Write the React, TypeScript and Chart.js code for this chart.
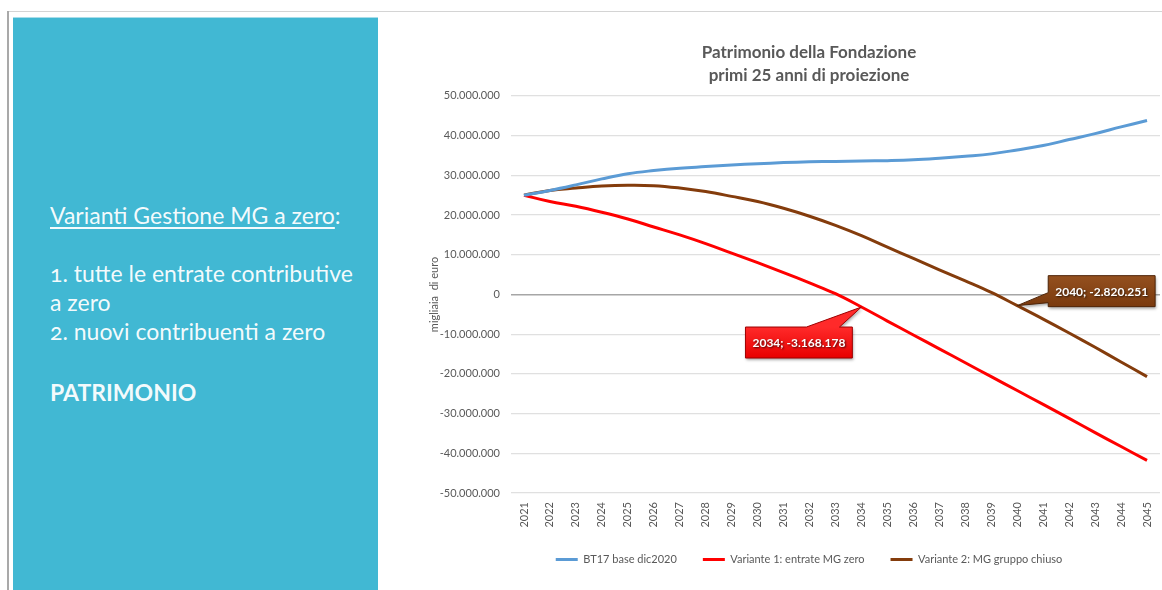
import React, { useEffect, useRef } from "react";
import { Chart, registerables } from "chart.js";

Chart.register(...registerables);

// ---------- DATA ----------
const years = [
  "2021", "2022", "2023", "2024", "2025", "2026", "2027", "2028", "2029", "2030",
  "2031", "2032", "2033", "2034", "2035", "2036", "2037", "2038", "2039", "2040",
  "2041", "2042", "2043", "2044", "2045",
];

const seriesNames = [
  "BT17 base dic2020",
  "Variante 1: entrate MG zero",
  "Variante 2: MG gruppo chiuso",
];

const baseBT17 = [
  25000000, 26200000, 27600000, 29100000, 30400000, 31200000, 31800000, 32200000,
  32600000, 32900000, 33200000, 33400000, 33500000, 33600000, 33700000, 33900000,
  34300000, 34800000, 35400000, 36400000, 37500000, 39000000, 40500000, 42200000,
  43800000,
];

const variante1 = [
  25000000, 23400000, 22200000, 20700000, 19000000, 17000000, 15000000, 12800000,
  10400000, 8000000, 5500000, 2900000, 200000, -3168178, -6700000, -10200000,
  -13700000, -17200000, -20700000, -24200000, -27700000, -31200000, -34800000,
  -38300000, -41800000,
];

const variante2 = [
  25000000, 26200000, 26800000, 27300000, 27500000, 27400000, 26800000, 25900000,
  24700000, 23400000, 21700000, 19700000, 17400000, 14800000, 11900000, 9100000,
  6200000, 3400000, 500000, -2820251, -6200000, -9700000, -13300000, -17000000,
  -20700000,
];

const yMin = -50000000;
const yMax = 50000000;
const yStep = 10000000;

const titleLines = ["Patrimonio della Fondazione", "primi 25 anni di proiezione"];
const yAxisTitle = "migliaia  di euro";

// callouts: which dataset / which year
const calloutSeries = [1, 2];
const calloutYears = ["2034", "2040"];
const calloutTexts = ["2034; -3.168.178", "2040; -2.820.251"];

// ---------- STYLE ----------
const FONT = "Lato, 'Open Sans', sans-serif";
const colors = ["#5B9BD5", "#FF0000", "#843C0C"];
const TEXT_GREY = "#595959";

const fmt = (v: number) => {
  const s = Math.round(Math.abs(v)).toString().replace(/\B(?=(\d{3})+(?!\d))/g, ".");
  return (v < 0 ? "-" : "") + s;
};

const calloutStyles = [
  { fillTop: "#ff2a2a", fillBottom: "#e80000", stroke: "#9c0000", side: "below" },
  { fillTop: "#94501f", fillBottom: "#7a3a0e", stroke: "#4e2408", side: "right" },
];

const calloutPlugin = {
  id: "callouts",
  afterDatasetsDraw(chart: any) {
    const ctx = chart.ctx as CanvasRenderingContext2D;
    calloutSeries.forEach((dsIndex, i) => {
      const idx = years.indexOf(calloutYears[i]);
      const meta = chart.getDatasetMeta(dsIndex);
      const pt = meta.data[idx];
      if (!pt) return;
      const x = pt.x;
      const y = pt.y;
      const st = calloutStyles[i];
      ctx.save();
      ctx.font = `bold 12px ${FONT}`;
      const tw = ctx.measureText(calloutTexts[i]).width;
      const w = tw + 14;
      const h = 31;
      let left: number, top: number;
      ctx.beginPath();
      if (st.side === "below") {
        left = x - 116;
        top = y + 20;
        ctx.moveTo(left, top);
        ctx.lineTo(left + 61, top);
        ctx.lineTo(x, y);
        ctx.lineTo(left + 94, top);
        ctx.lineTo(left + w, top);
        ctx.lineTo(left + w, top + h);
        ctx.lineTo(left, top + h);
        ctx.closePath();
      } else {
        left = x + 31;
        top = y - 30;
        ctx.moveTo(left, top);
        ctx.lineTo(left + w, top);
        ctx.lineTo(left + w, top + h);
        ctx.lineTo(left, top + h);
        ctx.lineTo(left, top + 27);
        ctx.lineTo(x, y);
        ctx.lineTo(left, top + 17);
        ctx.closePath();
      }
      const g = ctx.createLinearGradient(0, top, 0, top + h);
      g.addColorStop(0, st.fillTop);
      g.addColorStop(1, st.fillBottom);
      ctx.shadowColor = "rgba(0,0,0,0.35)";
      ctx.shadowBlur = 3;
      ctx.shadowOffsetX = 1;
      ctx.shadowOffsetY = 2;
      ctx.fillStyle = g;
      ctx.fill();
      ctx.shadowColor = "transparent";
      ctx.lineWidth = 1;
      ctx.strokeStyle = st.stroke;
      ctx.stroke();
      ctx.fillStyle = "#ffffff";
      ctx.textAlign = "center";
      ctx.textBaseline = "middle";
      ctx.shadowColor = "rgba(0,0,0,0.7)";
      ctx.shadowBlur = 2;
      ctx.shadowOffsetX = 1;
      ctx.shadowOffsetY = 1;
      ctx.fillText(calloutTexts[i], left + w / 2, top + h / 2 + 1);
      ctx.restore();
    });
  },
};

function PatrimonioChart() {
  const ref = useRef<HTMLCanvasElement | null>(null);
  useEffect(() => {
    if (!ref.current) return;
    const datasets = [baseBT17, variante1, variante2].map((d, i) => ({
      label: seriesNames[i],
      data: d,
      borderColor: colors[i],
      backgroundColor: colors[i],
      borderWidth: 3,
      pointRadius: 0,
      pointHoverRadius: 0,
      tension: 0.4,
      fill: false,
    }));
    const chart = new Chart(ref.current, {
      type: "line",
      data: { labels: years, datasets },
      plugins: [calloutPlugin],
      options: {
        animation: false,
        responsive: true,
        maintainAspectRatio: false,
        layout: { padding: { left: 25, right: 0, top: 11, bottom: 15 } },
        plugins: {
          tooltip: { enabled: false },
          title: {
            display: true,
            text: titleLines,
            color: TEXT_GREY,
            font: { family: FONT, size: 17, weight: "bold", lineHeight: 1.35 },
            padding: { top: 0, bottom: 9 },
          },
          legend: {
            display: true,
            position: "bottom",
            labels: {
              boxWidth: 22,
              boxHeight: 3,
              padding: 26,
              color: TEXT_GREY,
              font: { family: FONT, size: 11 },
              generateLabels: (c: any) =>
                c.data.datasets.map((ds: any, i: number) => ({
                  text: ds.label,
                  fillStyle: ds.borderColor,
                  strokeStyle: ds.borderColor,
                  lineWidth: 0,
                  hidden: false,
                  datasetIndex: i,
                  fontColor: TEXT_GREY,
                })),
            },
          },
        },
        scales: {
          x: {
            type: "category",
            offset: true,
            grid: { display: false, drawTicks: false },
            border: { display: false },
            ticks: {
              color: TEXT_GREY,
              font: { family: FONT, size: 11 },
              minRotation: 90,
              maxRotation: 90,
              padding: 9,
              autoSkip: false,
            },
            afterFit: (s: any) => {
              s.height = 35;
            },
          },
          y: {
            position: "left",
            min: yMin,
            max: yMax,
            grid: {
              drawTicks: false,
              color: (c: any) => (c.tick && c.tick.value === 0 ? "#a6a6a6" : "#e0e0e0"),
              lineWidth: (c: any) => (c.tick && c.tick.value === 0 ? 1.6 : 1.2),
            },
            border: { display: false },
            ticks: {
              stepSize: yStep,
              color: TEXT_GREY,
              font: { family: FONT, size: 11 },
              padding: 11,
              callback: (v: any) => fmt(Number(v)),
            },
            title: {
              display: true,
              text: yAxisTitle,
              color: TEXT_GREY,
              font: { family: FONT, size: 11 },
              padding: { top: 3, bottom: 3 },
            },
            afterFit: (s: any) => {
              s.width = 86;
            },
          },
          yPad: {
            position: "right",
            display: true,
            grid: { display: false, drawTicks: false },
            border: { display: false },
            ticks: { display: false },
            afterFit: (s: any) => {
              s.width = 33;
            },
          },
        },
      } as any,
    });
    return () => chart.destroy();
  }, []);
  return <canvas ref={ref} />;
}

export default function App() {
  const panelText: React.CSSProperties = {
    position: "absolute",
    left: 37,
    fontSize: 23,
    lineHeight: "29px",
    color: "rgba(255,255,255,0.94)",
    whiteSpace: "nowrap",
    fontFamily: FONT,
    fontVariantNumeric: "oldstyle-nums",
  };
  return (
    <div
      style={{
        position: "absolute",
        left: 0,
        top: 0,
        width: 1162,
        height: 590,
        overflow: "hidden",
        background: "#ffffff",
        fontFamily: FONT,
      }}
    >
      {/* top rule */}
      <div style={{ position: "absolute", left: 7, top: 11, width: 1155, height: 1, background: "#d4d4d4" }} />
      {/* left rule */}
      <div style={{ position: "absolute", left: 7, top: 11, width: 2, height: 579, background: "#a9a9a9" }} />
      {/* blue panel */}
      <div
        style={{
          position: "absolute",
          left: 13,
          top: 17,
          width: 365,
          height: 573,
          background: "#41B8D3",
          borderTop: "1px solid #a9dde9",
          boxSizing: "border-box",
        }}
      >
        <div style={{ ...panelText, top: 200 - 17 }}>
          <span style={{ textDecoration: "underline", textDecorationThickness: "1.5px", textUnderlineOffset: "3px" }}>
            Varianti Gestione MG a zero
          </span>
          :
        </div>
        <div style={{ ...panelText, top: 258 - 17 }}>1. tutte le entrate contributive</div>
        <div style={{ ...panelText, top: 287 - 17 }}>a zero</div>
        <div style={{ ...panelText, top: 316 - 17 }}>2. nuovi contribuenti a zero</div>
        <div style={{ ...panelText, top: 377 - 17, fontWeight: "bold" }}>PATRIMONIO</div>
      </div>
      {/* chart */}
      <div style={{ position: "absolute", left: 400, top: 30, width: 793, height: 560 }}>
        <PatrimonioChart />
      </div>
    </div>
  );
}
